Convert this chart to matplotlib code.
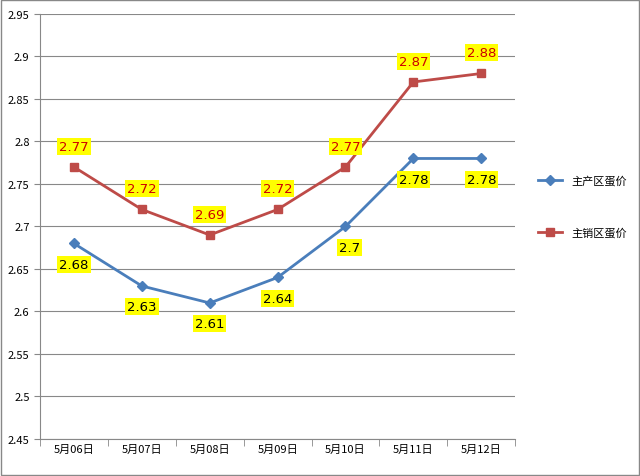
import matplotlib.pyplot as plt
import numpy as np

plt.rcParams['font.family'] = ['Noto Sans CJK SC', 'DejaVu Sans']

dates = ["5月06日", "5月07日", "5月08日", "5月09日", "5月10日", "5月11日", "5月12日"]
chan = [2.68, 2.63, 2.61, 2.64, 2.70, 2.78, 2.78]
xiao = [2.77, 2.72, 2.69, 2.72, 2.77, 2.87, 2.88]
chan_txt = ["2.68", "2.63", "2.61", "2.64", "2.7", "2.78", "2.78"]
xiao_txt = ["2.77", "2.72", "2.69", "2.72", "2.77", "2.87", "2.88"]

fig = plt.figure(figsize=(6.4, 4.77), dpi=100)
fig.patches.append(plt.Rectangle((0.002, 0.002), 0.996, 0.996, transform=fig.transFigure,
                                 fill=False, edgecolor='#888888', linewidth=1))
ax = fig.add_axes([0.0625, 0.0776, 0.7425, 0.891])
x = np.arange(len(dates))

ax.plot(x, chan, color='#4a7ebb', marker='D', markersize=5, linewidth=2, label='主产区蛋价')
ax.plot(x, xiao, color='#be4b48', marker='s', markersize=6, linewidth=2, label='主销区蛋价')

box = dict(boxstyle='square,pad=0.15', facecolor='#ffff00', edgecolor='none')
for i in x:
    dx = 3 if i == 4 else 0
    ax.annotate(chan_txt[i], (i, chan[i]), xytext=(dx, -15), textcoords='offset points',
                ha='center', va='center', fontsize=9.5, color='black', bbox=box,
                family=['DejaVu Sans'])
    ax.annotate(xiao_txt[i], (i, xiao[i]), xytext=(0, 15), textcoords='offset points',
                ha='center', va='center', fontsize=9.5, color='#cc0000', bbox=box,
                family=['DejaVu Sans'])

ax.set_xlim(-0.5, 6.5)
ax.set_ylim(2.45, 2.95)
ax.set_yticks(np.arange(2.45, 2.951, 0.05))
ax.set_yticklabels([f"{v:g}" for v in np.arange(2.45, 2.951, 0.05).round(2)], fontsize=8)
ax.set_xticks(x)
ax.set_xticklabels(dates, fontsize=8)
ax.set_xticks(np.arange(-0.5, 7, 1), minor=True)
ax.tick_params(axis='x', which='major', length=0)
ax.tick_params(axis='x', which='minor', length=5, color='#888888')
ax.tick_params(axis='y', length=4, color='#888888')
ax.grid(axis='y', color='#888888', linewidth=0.8)
ax.set_axisbelow(True)
for s in ['top', 'right']:
    ax.spines[s].set_visible(False)
for s in ['left', 'bottom']:
    ax.spines[s].set_color('#888888')

fig.legend(loc='center left', bbox_to_anchor=(0.825, 0.565), frameon=False,
           fontsize=8, labelspacing=3.7, handlelength=2.2)

fig.savefig('out.png', dpi=100)
